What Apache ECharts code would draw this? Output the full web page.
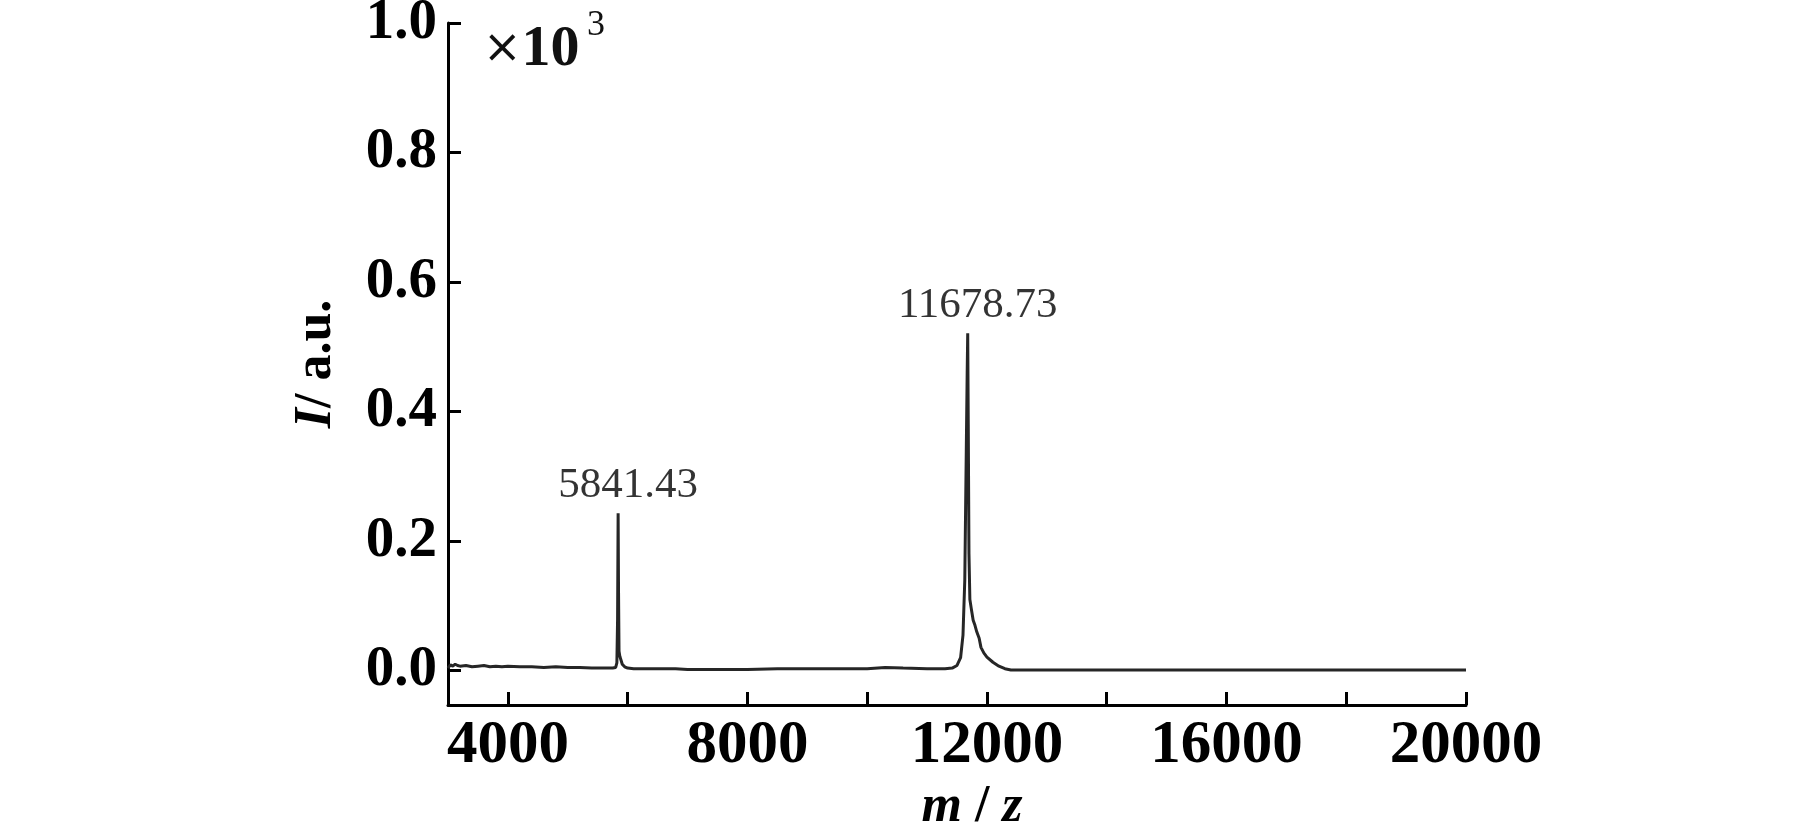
<!DOCTYPE html>
<html><head><meta charset="utf-8">
<script src="https://cdn.jsdelivr.net/npm/echarts@6/dist/echarts.min.js"></script>
<style>html,body{margin:0;padding:0;background:#fff}#c{width:1819px;height:827px}</style>
</head><body><div id="c"></div>
<script>
// m/z values and intensities (x10^3 a.u.)
const mz = [3000, 3040, 3080, 3120, 3160, 3200, 3300, 3400, 3500, 3600, 3700, 3800, 3900, 4000, 4200, 4400, 4600, 4800, 5000, 5200, 5400, 5600, 5750, 5800, 5820, 5832, 5841, 5848, 5856, 5870, 5890, 5910, 5950, 6000, 6100, 6200, 6400, 6600, 6800, 7000, 7500, 8000, 8500, 9000, 9500, 10000, 10300, 10600, 11000, 11300, 11420, 11500, 11560, 11600, 11630, 11655, 11670, 11679, 11688, 11700, 11715, 11740, 11770, 11800, 11830, 11850, 11870, 11900, 11950, 12000, 12100, 12200, 12300, 12400, 12600, 13000, 14000, 15000, 16000, 17000, 18000, 19000, 20000];
const intensity = [0.004, 0.009, 0.007, 0.010, 0.008, 0.007, 0.008, 0.006, 0.007, 0.008, 0.006, 0.007, 0.006, 0.007, 0.006, 0.006, 0.005, 0.006, 0.005, 0.005, 0.004, 0.004, 0.004, 0.005, 0.012, 0.080, 0.243, 0.120, 0.030, 0.022, 0.016, 0.010, 0.006, 0.004, 0.003, 0.003, 0.003, 0.003, 0.003, 0.002, 0.002, 0.002, 0.003, 0.003, 0.003, 0.003, 0.005, 0.004, 0.003, 0.003, 0.004, 0.008, 0.020, 0.055, 0.140, 0.340, 0.460, 0.521, 0.380, 0.180, 0.110, 0.095, 0.078, 0.070, 0.060, 0.063, 0.050, 0.036, 0.027, 0.021, 0.013, 0.007, 0.003, 0.001, 0.001, 0.001, 0.001, 0.001, 0.001, 0.001, 0.001, 0.001, 0.001];
const xTicks = [4000, 6000, 8000, 10000, 12000, 14000, 16000, 18000, 20000];
const xLabels = [4000, 8000, 12000, 16000, 20000];
const yTicks = [0, 0.2, 0.4, 0.6, 0.8, 1.0];
const peakMz = [5841.43, 11678.73];
const peakI = [0.243, 0.521];
const peakLabels = ['5841.43', '11678.73'];

const serif = "'Liberation Serif', 'Times New Roman', serif";
const chart = echarts.init(document.getElementById('c'));
chart.setOption({
  animation: false,
  backgroundColor: '#fff',
  grid: { left: 448, right: 353, top: 23, bottom: 122, containLabel: false, outerBoundsMode: 'none' },
  xAxis: {
    type: 'value', min: 3000, max: 20000,
    axisLine: { show: true, onZero: false, lineStyle: { color: '#000', width: 3 } },
    axisTick: { show: true, inside: true, length: 13, customValues: xTicks, lineStyle: { color: '#000', width: 3 } },
    axisLabel: { customValues: xLabels, margin: 11, color: '#000', fontFamily: serif, fontWeight: 'bold', fontSize: 61,
      formatter: v => String(v) },
    splitLine: { show: false },
    name: '{i|m}{n| / }{i|z}', nameLocation: 'middle', nameGap: 68,
    nameTextStyle: { padding: [0, 0, 0, 30], rich: {
      i: { fontFamily: serif, fontStyle: 'italic', fontWeight: 'bold', fontSize: 52, color: '#000' },
      n: { fontFamily: serif, fontWeight: 'bold', fontSize: 52, color: '#000' } } }
  },
  yAxis: {
    type: 'value', min: -0.053, max: 1.0,
    axisLine: { show: true, onZero: false, lineStyle: { color: '#000', width: 3 } },
    axisTick: { show: true, inside: true, length: 13, customValues: yTicks, lineStyle: { color: '#000', width: 3 } },
    axisLabel: { customValues: yTicks, margin: 11, color: '#000', fontFamily: serif, fontWeight: 'bold', fontSize: 57,
      formatter: v => Number(v).toFixed(1) },
    splitLine: { show: false },
    name: '{i|I}{n|/ a.u.}', nameLocation: 'middle', nameGap: 105,
    nameTextStyle: { rich: {
      i: { fontFamily: serif, fontStyle: 'italic', fontWeight: 'bold', fontSize: 52, color: '#000' },
      n: { fontFamily: serif, fontWeight: 'bold', fontSize: 52, color: '#000' } } }
  },
  graphic: [
    { type: 'text', left: 483, top: 21, style: { text: '{x|×}{d|10}', rich: {
      x: { fontFamily: "'DejaVu Sans', sans-serif", fontSize: 46, fill: '#111' },
      d: { fontFamily: serif, fontWeight: 'bold', fontSize: 58, fill: '#111' } } } },
    { type: 'text', left: 587, top: 8, style: { text: '3', fontFamily: serif, fontSize: 36, fill: '#111' } }
  ],
  series: [
    { type: 'line', data: mz.map((x, i) => [x, intensity[i]]), showSymbol: false, symbol: 'none',
      lineStyle: { color: '#262626', width: 3 }, smooth: false },
    { type: 'scatter', data: peakMz.map((x, i) => [x, peakI[i], peakLabels[i]]), symbolSize: 0,
      label: { show: true, position: 'top', distance: 6, offset: [10, 0], formatter: p => p.data[2],
        fontFamily: serif, fontSize: 43, color: '#000' } }
  ]
});
</script></body></html>
